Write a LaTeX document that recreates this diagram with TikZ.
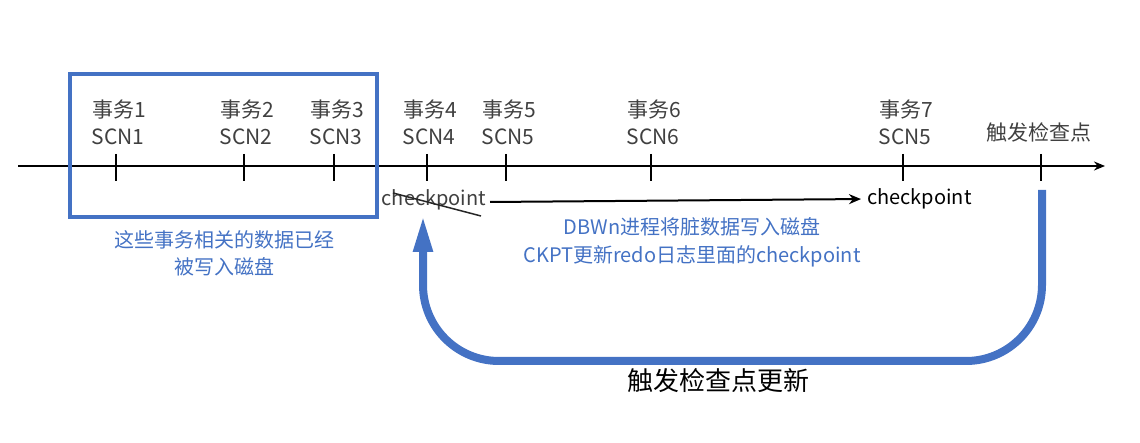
\documentclass[tikz,border=0pt]{standalone}
\usepackage{fontspec}
\setmainfont{Noto Sans CJK SC}
\usetikzlibrary{arrows.meta}
\definecolor{azul}{HTML}{4472C4}
\begin{document}
\begin{tikzpicture}[
                x=1pt, y=-1pt,
                rotulo/.style={text=black!75, font=\fontsize{21}{25}\selectfont, inner sep=0pt},
                nota/.style={text=azul, font=\fontsize{20}{24}\selectfont, inner sep=0pt, align=center},
                marca/.style={line width=2pt},
                eixo/.style={line width=2pt, -{Stealth[length=11pt, width=9pt]}},
            ]
            \useasboundingbox (0, 0) rectangle (1140, 443);

            % eixo do tempo
            \coordinate (ini) at (18, 166);
            \coordinate (fim) at (1105, 166);
            \draw[eixo] (ini) -- (fim);

            % marcas e rotulos
            \foreach \nome/\px/\tx/\scn in {t1/116/事务1/SCN1, t2/244/事务2/SCN2, t3/334/事务3/SCN3,
                t4/427/事务4/SCN4, t5/506/事务5/SCN5, t6/651/事务6/SCN6, t7/903/事务7/SCN5} {
                \coordinate (\nome) at (\px, 166);
                \draw[marca] (\px, 154) -- (\px, 181);
                \node[rotulo] (\nome-a) at (\px+3, 110) {\tx};
                \node[rotulo] (\nome-b) at (\px+2, 137) {\scn};
            }
            \coordinate (t8) at (1041, 166);
            \draw[marca] (1041, 154) -- (1041, 181);
            \node[rotulo] (gatilho) at (1039, 132) {触发检查点};

            % caixa azul
            \draw[azul, line width=3.5pt] (70, 74) rectangle (377, 217);
            \node[nota] (feito) at (224, 253) {这些事务相关的数据已经\\[3pt]被写入磁盘};

            % checkpoint antigo e novo
            \node[rotulo, font=\fontsize{20}{24}\selectfont] (velho) at (434, 200) {checkpoint};
            \draw[black!85, line width=1.5pt] (393, 193) -- (481, 216);
            \node[rotulo, text=black, anchor=west, font=\fontsize{20}{24}\selectfont] (novo) at (867, 199) {checkpoint};
            \coordinate (s) at (490, 202);
            \draw[line width=2pt, shorten >=6pt, -{Stealth[length=12pt, width=10pt]}] (s) -- (novo.west);
            \node[nota] (dbwn) at (692, 242) {DBWn进程将脏数据写入磁盘\\[4pt]CKPT更新redo日志里面的checkpoint};

            % seta de volta
            \coordinate (a) at (1042, 190);
            \coordinate (b) at (1042, 361);
            \coordinate (c) at (423, 361);
            \coordinate (d) at (423, 215);
            \draw[azul, line width=8pt, rounded corners=76pt, -{Triangle[length=37pt, width=18pt]}]
                (a) -- (b) -- (c) -- (d);
            \node[text=black, font=\fontsize{26}{30}\selectfont, inner sep=0pt] (volta) at (718, 381) {触发检查点更新};
        \end{tikzpicture}
\end{document}
